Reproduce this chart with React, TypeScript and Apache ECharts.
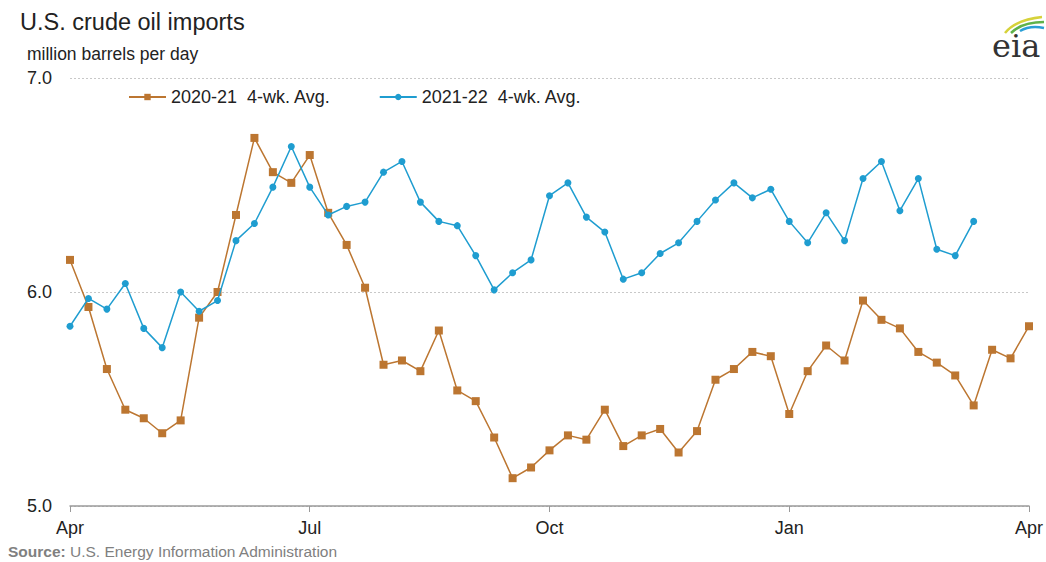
import React, { useEffect, useRef } from "react";
import * as echarts from "echarts";

const quarterLabels = ["Apr", "Jul", "Oct", "Jan", "Apr"];
const yTicks = [5.0, 6.0, 7.0];

const series2020 = [
  6.15, 5.93, 5.64, 5.45, 5.41, 5.34, 5.40, 5.88, 6.00, 6.36,
  6.72, 6.56, 6.51, 6.64, 6.37, 6.22, 6.02, 5.66, 5.68, 5.63,
  5.82, 5.54, 5.49, 5.32, 5.13, 5.18, 5.26, 5.33, 5.31, 5.45,
  5.28, 5.33, 5.36, 5.25, 5.35, 5.59, 5.64, 5.72, 5.70, 5.43,
  5.63, 5.75, 5.68, 5.96, 5.87, 5.83, 5.72, 5.67, 5.61, 5.47,
  5.73, 5.69, 5.84,
];

const series2021 = [
  5.84, 5.97, 5.92, 6.04, 5.83, 5.74, 6.00, 5.91, 5.96, 6.24,
  6.32, 6.49, 6.68, 6.49, 6.36, 6.40, 6.42, 6.56, 6.61, 6.42,
  6.33, 6.31, 6.17, 6.01, 6.09, 6.15, 6.45, 6.51, 6.35, 6.28,
  6.06, 6.09, 6.18, 6.23, 6.33, 6.43, 6.51, 6.44, 6.48, 6.33,
  6.23, 6.37, 6.24, 6.53, 6.61, 6.38, 6.53, 6.20, 6.17, 6.33,
];

const seriesNames = ["2020-21  4-wk. Avg.", "2021-22  4-wk. Avg."];
const BROWN = "#bc7631";
const BLUE = "#1f9dd0";
const FONT = "Liberation Sans, Arial, sans-serif";

export default function App() {
  const ref = useRef<HTMLDivElement>(null);
  useEffect(() => {
    if (!ref.current) return;
    const chart = echarts.init(ref.current, null, { renderer: "svg" });
    const toPairs = (arr: number[]) => arr.map((v, i) => [i, v]);
    chart.setOption({
      animation: false,
      backgroundColor: "#ffffff",
      textStyle: { fontFamily: FONT },
      title: {
        text: "U.S. crude oil imports",
        left: 20,
        top: 10,
        padding: 0,
        textStyle: { fontSize: 23.5, fontWeight: "normal", color: "#222", fontFamily: FONT },
      },
      legend: {
        left: 128,
        top: 88,
        padding: 0,
        itemWidth: 37,
        itemHeight: 8,
        itemGap: 48,
        textStyle: { fontSize: 18, color: "#222", fontFamily: FONT },
        data: seriesNames,
      },
      grid: { left: 70, right: 14, top: 78, bottom: 56, containLabel: false },
      xAxis: {
        type: "value",
        min: 0,
        max: 52,
        interval: 13,
        axisLine: { show: true, lineStyle: { color: "#9a9a9a", width: 1.5 } },
        axisTick: { show: true, inside: false, length: 6, lineStyle: { color: "#9a9a9a" } },
        axisLabel: {
          fontSize: 18,
          color: "#222",
          margin: 13,
          formatter: (v: number) => quarterLabels[Math.round(v / 13)] ?? "",
        },
        splitLine: { show: false },
      },
      yAxis: {
        type: "value",
        min: yTicks[0],
        max: yTicks[yTicks.length - 1],
        interval: 1,
        axisLine: { show: false },
        axisTick: { show: false },
        axisLabel: {
          fontSize: 18,
          color: "#222",
          margin: 18,
          formatter: (v: number) => v.toFixed(1),
        },
        splitLine: { show: true, lineStyle: { color: "#c8c8c8", type: [2, 2], width: 1 } },
      },
      series: [
        {
          name: seriesNames[0],
          type: "line",
          data: toPairs(series2020),
          symbol: "rect",
          symbolSize: 8,
          lineStyle: { color: BROWN, width: 1.5 },
          itemStyle: { color: BROWN },
          z: 2,
        },
        {
          name: seriesNames[1],
          type: "line",
          data: toPairs(series2021),
          symbol: "circle",
          symbolSize: 7,
          lineStyle: { color: BLUE, width: 1.5 },
          itemStyle: { color: BLUE },
          z: 3,
        },
      ],
      graphic: [
        {
          type: "text",
          left: 27,
          top: 45,
          style: { text: "million barrels per day", fontSize: 17.5, fill: "#222", fontFamily: FONT },
        },
        {
          type: "text",
          left: 8,
          top: 543,
          style: {
            text: "{b|Source:} U.S. Energy Information Administration",
            fontSize: 15.5,
            fill: "#808080",
            fontFamily: FONT,
            rich: { b: { fontWeight: "bold", fontSize: 15.5, fill: "#808080", fontFamily: FONT } },
          },
        },
        {
          type: "text",
          left: 992,
          top: 30,
          style: { text: "eia", fontSize: 32, fill: "#333", fontFamily: "DejaVu Serif, Liberation Serif, serif" },
        },
        {
          type: "bezierCurve",
          shape: { x1: 1005, y1: 33, cpx1: 1015, cpy1: 20, x2: 1042, y2: 17 },
          style: { stroke: "#d6d23a", lineWidth: 2.5, fill: "none" },
        },
        {
          type: "bezierCurve",
          shape: { x1: 1011, y1: 33, cpx1: 1022, cpy1: 22, x2: 1044, y2: 22 },
          style: { stroke: "#5fb24a", lineWidth: 2.5, fill: "none" },
        },
        {
          type: "bezierCurve",
          shape: { x1: 1020, y1: 31, cpx1: 1030, cpy1: 25, x2: 1044, y2: 28 },
          style: { stroke: "#2a9fd6", lineWidth: 2.5, fill: "none" },
        },
      ],
    });
    return () => chart.dispose();
  }, []);
  return <div ref={ref} style={{ width: 1046, height: 562, position: "absolute", left: 0, top: 0 }} />;
}
